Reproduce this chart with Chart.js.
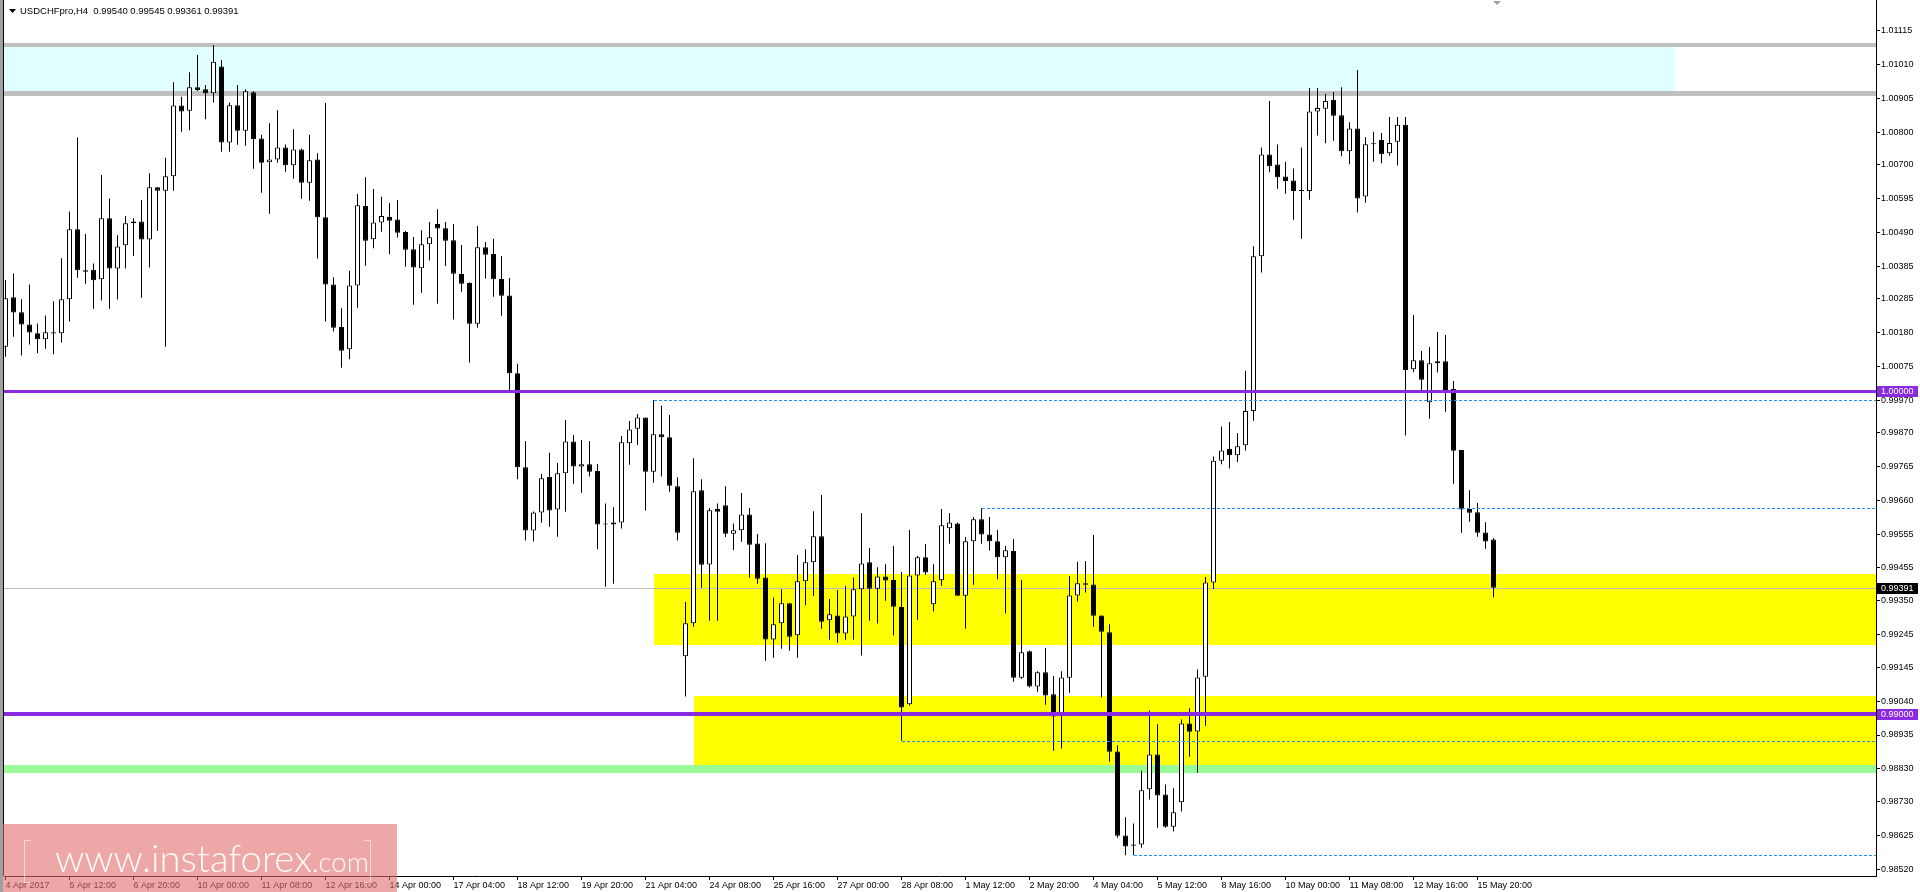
<!DOCTYPE html>
<html>
<head>
<meta charset="utf-8">
<title>USDCHFpro,H4</title>
<script src="https://cdn.jsdelivr.net/npm/chart.js@4.4.1/dist/chart.umd.min.js"></script>
<style>
    html, body { margin: 0; padding: 0; background: #fff; overflow: hidden; }
    #chartBox { position: relative; width: 1920px; height: 892px; }
</style>
</head>
<body>
<div id="chartBox"><canvas id="priceChart"></canvas></div>
<script>
// H4 candles, 4 Apr 2017 04:00 onwards (one entry per bar)
const opens = [
    1.00137, 1.00290, 1.00244, 1.00206, 1.00179, 1.00160, 1.00182, 1.00179, 1.00284, 1.00501,
    1.00374, 1.00375, 1.00346, 1.00535, 1.00379, 1.00451, 1.00519, 1.00525, 1.00469, 1.00631,
    1.00620, 1.00665, 1.00884, 1.00868, 1.00940, 1.00934, 1.00922, 1.01005, 1.00769, 1.00885,
    1.00806, 1.00925, 1.00782, 1.00708, 1.00717, 1.00754, 1.00699, 1.00748, 1.00645, 1.00717,
    1.00538, 1.00330, 1.00198, 1.00129, 1.00327, 1.00573, 1.00470, 1.00522, 1.00539, 1.00531,
    1.00492, 1.00439, 1.00380, 1.00454, 1.00517, 1.00504, 1.00467, 1.00362, 1.00334, 1.00208,
    1.00445, 1.00424, 1.00347, 1.00296, 1.00055, 0.99764, 0.99568, 0.99624, 0.99734, 0.99633,
    0.99745, 0.99844, 0.99766, 0.99773, 0.99752, 0.99587, 0.99587, 0.99593, 0.99838, 0.99883,
    0.99918, 0.99750, 0.99866, 0.99857, 0.99705, 0.99179, 0.99281, 0.99693, 0.99463, 0.99635,
    0.99646, 0.99558, 0.99569, 0.99618, 0.99528, 0.99423, 0.99231, 0.99281, 0.99343, 0.99244,
    0.99411, 0.99470, 0.99550, 0.99290, 0.99305, 0.99249, 0.99302, 0.99386, 0.99470, 0.99388,
    0.99426, 0.99415, 0.99331, 0.99030, 0.99429, 0.99485, 0.99340, 0.99414, 0.99575, 0.99590,
    0.99366, 0.99535, 0.99603, 0.99556, 0.99535, 0.99485, 0.99505, 0.99112, 0.99194, 0.99085,
    0.99129, 0.99061, 0.99000, 0.99112, 0.99367, 0.99405, 0.99401, 0.99305, 0.99253, 0.98884,
    0.98624, 0.98592, 0.98596, 0.98767, 0.98875, 0.98751, 0.98651, 0.98727, 0.98971, 0.98946,
    0.99115, 0.99407, 0.99784, 0.99821, 0.99801, 0.99832, 0.99938, 1.00417, 1.00732, 1.00701,
    1.00664, 1.00652, 1.00619, 1.00619, 1.00865, 1.00874, 1.00902, 1.00854, 1.00742, 1.00813,
    1.00602, 1.00764, 1.00777, 1.00736, 1.00772, 1.00824, 1.00067, 1.00095, 0.99965, 1.00086,
    1.00092, 1.00006, 0.99817, 0.99635, 0.99625, 0.99562, 0.99540
];
const highs = [
    1.00344, 1.00364, 1.00284, 1.00330, 1.00209, 1.00234, 1.00278, 1.00411, 1.00556, 1.00785,
    1.00486, 1.00395, 1.00669, 1.00596, 1.00482, 1.00542, 1.00535, 1.00591, 1.00674, 1.00631,
    1.00722, 1.00956, 1.00911, 1.00987, 1.01040, 1.00947, 1.01071, 1.01025, 1.00893, 1.00947,
    1.00934, 1.00928, 1.00793, 1.00829, 1.00869, 1.00763, 1.00810, 1.00751, 1.00793, 1.00736,
    1.00892, 1.00352, 1.00256, 1.00372, 1.00610, 1.00662, 1.00625, 1.00601, 1.00582, 1.00591,
    1.00495, 1.00477, 1.00498, 1.00523, 1.00563, 1.00523, 1.00517, 1.00452, 1.00337, 1.00511,
    1.00461, 1.00471, 1.00418, 1.00350, 1.00084, 0.99845, 0.99627, 0.99743, 0.99809, 0.99777,
    0.99910, 0.99864, 0.99848, 0.99845, 0.99774, 0.99652, 0.99640, 0.99861, 0.99907, 0.99929,
    0.99918, 0.99972, 0.99954, 0.99926, 0.99733, 0.99347, 0.99792, 0.99727, 0.99638, 0.99652,
    0.99705, 0.99590, 0.99684, 0.99638, 0.99557, 0.99529, 0.99361, 0.99386, 0.99343, 0.99492,
    0.99510, 0.99628, 0.99678, 0.99356, 0.99384, 0.99396, 0.99423, 0.99622, 0.99514, 0.99454,
    0.99464, 0.99520, 0.99440, 0.99570, 0.99489, 0.99526, 0.99464, 0.99635, 0.99622, 0.99593,
    0.99548, 0.99610, 0.99637, 0.99610, 0.99570, 0.99520, 0.99542, 0.99415, 0.99197, 0.99132,
    0.99204, 0.99118, 0.99132, 0.99427, 0.99471, 0.99474, 0.99554, 0.99305, 0.99278, 0.98903,
    0.98680, 0.98661, 0.98824, 0.99011, 0.98968, 0.98782, 0.98770, 0.98983, 0.99018, 0.99138,
    0.99424, 0.99797, 0.99890, 0.99904, 0.99870, 1.00063, 1.00448, 1.00754, 1.00898, 1.00763,
    1.00710, 1.00689, 1.00754, 1.00938, 1.00938, 1.00920, 1.00926, 1.00940, 1.00832, 1.00994,
    1.00786, 1.00803, 1.00799, 1.00848, 1.00848, 1.00848, 1.00235, 1.00124, 1.00136, 1.00183,
    1.00173, 1.00031, 0.99817, 0.99693, 0.99653, 0.99594, 0.99545
];
const lows = [
    1.00106, 1.00168, 1.00110, 1.00144, 1.00117, 1.00131, 1.00114, 1.00150, 1.00215, 1.00351,
    1.00332, 1.00255, 1.00280, 1.00255, 1.00283, 1.00379, 1.00418, 1.00289, 1.00382, 1.00495,
    1.00137, 1.00620, 1.00803, 1.00807, 1.00929, 1.00841, 1.00893, 1.00741, 1.00741, 1.00762,
    1.00759, 1.00688, 1.00614, 1.00549, 1.00707, 1.00679, 1.00657, 1.00595, 1.00589, 1.00410,
    1.00215, 1.00184, 1.00072, 1.00098, 1.00258, 1.00388, 1.00442, 1.00493, 1.00423, 1.00475,
    1.00385, 1.00267, 1.00304, 1.00404, 1.00270, 1.00387, 1.00221, 1.00307, 1.00088, 1.00196,
    1.00348, 1.00292, 1.00233, 1.00001, 0.99727, 0.99537, 0.99534, 0.99592, 0.99580, 0.99549,
    0.99626, 0.99713, 0.99685, 0.99735, 0.99510, 0.99394, 0.99403, 0.99574, 0.99772, 0.99833,
    0.99630, 0.99716, 0.99735, 0.99688, 0.99537, 0.99054, 0.99270, 0.99391, 0.99289, 0.99289,
    0.99548, 0.99508, 0.99533, 0.99422, 0.99403, 0.99165, 0.99174, 0.99202, 0.99196, 0.99174,
    0.99337, 0.99365, 0.99264, 0.99230, 0.99221, 0.99230, 0.99230, 0.99181, 0.99289, 0.99280,
    0.99351, 0.99243, 0.98917, 0.99026, 0.99292, 0.99431, 0.99317, 0.99397, 0.99527, 0.99366,
    0.99264, 0.99400, 0.99527, 0.99506, 0.99417, 0.99311, 0.99100, 0.99109, 0.99082, 0.99069,
    0.99029, 0.98886, 0.98893, 0.99066, 0.99348, 0.99376, 0.99270, 0.99051, 0.98852, 0.98617,
    0.98563, 0.98563, 0.98586, 0.98735, 0.98648, 0.98648, 0.98636, 0.98698, 0.98868, 0.98818,
    0.98964, 0.99387, 0.99773, 0.99760, 0.99780, 0.99816, 0.99908, 1.00367, 1.00677, 1.00626,
    1.00611, 1.00530, 1.00471, 1.00592, 1.00791, 1.00767, 1.00775, 1.00727, 1.00702, 1.00553,
    1.00583, 1.00710, 1.00705, 1.00728, 1.00698, 0.99862, 1.00058, 1.00003, 0.99914, 1.00057,
    0.99936, 0.99713, 0.99561, 0.99595, 0.99549, 0.99512, 0.99361
];
const closes = [
    1.00287, 1.00243, 1.00206, 1.00181, 1.00160, 1.00182, 1.00178, 1.00284, 1.00501, 1.00374,
    1.00369, 1.00343, 1.00535, 1.00379, 1.00447, 1.00519, 1.00525, 1.00469, 1.00631, 1.00620,
    1.00665, 1.00884, 1.00865, 1.00940, 1.00932, 1.00922, 1.01019, 1.00769, 1.00885, 1.00806,
    1.00928, 1.00780, 1.00707, 1.00717, 1.00754, 1.00699, 1.00748, 1.00645, 1.00714, 1.00538,
    1.00330, 1.00196, 1.00125, 1.00327, 1.00575, 1.00465, 1.00522, 1.00542, 1.00527, 1.00490,
    1.00437, 1.00382, 1.00454, 1.00476, 1.00503, 1.00465, 1.00363, 1.00332, 1.00208, 1.00445,
    1.00422, 1.00346, 1.00295, 1.00055, 0.99764, 0.99568, 0.99624, 0.99730, 0.99630, 0.99745,
    0.99844, 0.99766, 0.99773, 0.99750, 0.99587, 0.99587, 0.99593, 0.99841, 0.99881, 0.99918,
    0.99750, 0.99866, 0.99857, 0.99707, 0.99561, 0.99281, 0.99690, 0.99462, 0.99631, 0.99626,
    0.99558, 0.99569, 0.99618, 0.99524, 0.99419, 0.99231, 0.99278, 0.99343, 0.99239, 0.99411,
    0.99470, 0.99550, 0.99286, 0.99309, 0.99249, 0.99302, 0.99386, 0.99466, 0.99388, 0.99426,
    0.99413, 0.99332, 0.99020, 0.99429, 0.99485, 0.99438, 0.99411, 0.99584, 0.99593, 0.99366,
    0.99535, 0.99603, 0.99556, 0.99535, 0.99485, 0.99507, 0.99112, 0.99191, 0.99085, 0.99129,
    0.99057, 0.98992, 0.99113, 0.99367, 0.99405, 0.99400, 0.99304, 0.99255, 0.98883, 0.98623,
    0.98590, 0.98596, 0.98764, 0.98875, 0.98748, 0.98651, 0.98696, 0.98971, 0.98945, 0.99113,
    0.99407, 0.99784, 0.99816, 0.99801, 0.99829, 0.99938, 1.00417, 1.00732, 1.00696, 1.00662,
    1.00650, 1.00619, 1.00619, 1.00865, 1.00876, 1.00898, 1.00852, 1.00742, 1.00813, 1.00596,
    1.00764, 1.00766, 1.00733, 1.00768, 1.00824, 1.00065, 1.00095, 1.00035, 1.00086, 1.00092,
    1.00003, 0.99815, 0.99633, 0.99623, 0.99561, 0.99534, 0.99391
];

// time labels, one every 8 bars starting at bar 0
const xLabels = [
    "4 Apr 2017", "5 Apr 12:00", "6 Apr 20:00", "10 Apr 00:00", "11 Apr 08:00", "12 Apr 16:00",
    "14 Apr 00:00", "17 Apr 04:00", "18 Apr 12:00", "19 Apr 20:00", "21 Apr 04:00", "24 Apr 08:00",
    "25 Apr 16:00", "27 Apr 00:00", "28 Apr 08:00", "1 May 12:00", "2 May 20:00", "4 May 04:00",
    "5 May 12:00", "8 May 16:00", "10 May 00:00", "11 May 08:00", "12 May 16:00", "15 May 20:00"
];
const yTicks = [
    1.01115, 1.01010, 1.00905, 1.00800, 1.00700, 1.00595, 1.00490, 1.00385, 1.00285, 1.00180,
    1.00075, 0.99970, 0.99870, 0.99765, 0.99660, 0.99555, 0.99455, 0.99350, 0.99245, 0.99145,
    0.99040, 0.98935, 0.98830, 0.98730, 0.98625, 0.98520
];
const yMin = 0.984985;
const yMax = 1.012105;
const xMin = -0.1875;
const xMax = 233.8125;

// drawn zones: resistance, upper support, lower support, floor
const zoneTop = [1.01071, 0.99433, 0.99056, 0.98842];
const zoneBottom = [1.00921, 0.99214, 0.98842, 0.98817];
const zoneFrom = [-5, 81, 86, -5];
const zoneTo = [208.7, 260, 260, 260];
const roundLevels = [1.00000, 0.99000];
const dottedLevels = [0.99973, 0.99637, 0.98916, 0.98562];
const dottedFrom = [81, 122, 112, 141];

const last = closes.length - 1;
const bidPrice = closes[last];

const zoneColors = ["#e0ffff", "#ffff00", "#ffff00", "#98fb98"];
const axisFont = '"Liberation Sans", Arial, sans-serif';

function pixelRow(scale, price) {
    return Math.round(scale.getPixelForValue(price));
}

// no label overhang padding, the plot runs edge to edge
function flushScale(scale) {
    scale.paddingTop = 0;
    scale.paddingBottom = 0;
    scale.paddingLeft = 0;
    scale.paddingRight = 0;
}

const levelsPlugin = {
    id: "levels",
    beforeDraw(chart) {
        const ctx = chart.ctx;
        ctx.save();
        ctx.fillStyle = "#ffffff";
        ctx.fillRect(0, 0, chart.width, chart.height);
        ctx.restore();
    },
    beforeDatasetsDraw(chart) {
        const { ctx, chartArea: area, scales: { x, y } } = chart;
        ctx.save();
        ctx.beginPath();
        ctx.rect(area.left, area.top, area.right - area.left, area.bottom - area.top);
        ctx.clip();

        zoneTop.forEach((top, i) => {
            const x0 = Math.round(x.getPixelForValue(zoneFrom[i]));
            const x1 = Math.round(x.getPixelForValue(zoneTo[i]));
            const y0 = pixelRow(y, top);
            const y1 = pixelRow(y, zoneBottom[i]);
            ctx.fillStyle = zoneColors[i];
            ctx.fillRect(x0, y0, x1 - x0, y1 - y0);
        });

        // silver edges of the resistance zone
        ctx.fillStyle = "#c0c0c0";
        [[zoneTop[0], 4], [zoneBottom[0], 5]].forEach(([price, w]) => {
            const yy = y.getPixelForValue(price);
            ctx.fillRect(area.left, Math.round(yy - w / 2), area.right - area.left, w);
        });

        // bid line
        ctx.fillRect(area.left, pixelRow(y, bidPrice), area.right - area.left, 1);
        ctx.restore();
    },
    afterDatasetsDraw(chart) {
        const { ctx, chartArea: area, scales: { x, y } } = chart;
        ctx.save();
        ctx.beginPath();
        ctx.rect(area.left, area.top, area.right - area.left, area.bottom - area.top);
        ctx.clip();

        ctx.strokeStyle = "#1e90ff";
        ctx.lineWidth = 1;
        ctx.setLineDash([3, 2]);
        dottedLevels.forEach((price, i) => {
            const yy = pixelRow(y, price) + 0.5;
            ctx.beginPath();
            ctx.moveTo(Math.round(x.getPixelForValue(dottedFrom[i])), yy);
            ctx.lineTo(area.right, yy);
            ctx.stroke();
        });
        ctx.setLineDash([]);

        ctx.fillStyle = "#8a2be2";
        roundLevels.forEach((price, i) => {
            const w = i === 0 ? 3 : 4;
            const yy = y.getPixelForValue(price);
            ctx.fillRect(area.left, Math.round(yy - w / 2), area.right - area.left, w);
        });
        ctx.restore();
    },
    afterDraw(chart) {
        const { ctx, chartArea: area, scales: { y } } = chart;
        ctx.save();

        // frame on the left
        ctx.fillStyle = "#a0a0a0";
        ctx.fillRect(0, 0, 3, chart.height);
        ctx.fillStyle = "#000000";
        ctx.fillRect(3, 0, 1, area.bottom);

        // price tags on the axis
        ctx.font = "9px " + axisFont;
        ctx.textBaseline = "middle";
        [[roundLevels[0], "#8a2be2"], [bidPrice, "#000000"], [roundLevels[1], "#8a2be2"]].forEach(([price, bg]) => {
            const yy = pixelRow(y, price);
            ctx.fillStyle = bg;
            ctx.fillRect(area.right + 1, yy - 5, 41, 11);
            ctx.fillStyle = "#ffffff";
            ctx.fillText(price.toFixed(5), area.right + 5, yy + 0.5);
        });

        // header
        ctx.fillStyle = "#000000";
        ctx.beginPath();
        ctx.moveTo(9, 9);
        ctx.lineTo(16, 9);
        ctx.lineTo(12.5, 13);
        ctx.closePath();
        ctx.fill();
        ctx.font = "9.5px " + axisFont;
        ctx.textBaseline = "alphabetic";
        const head = [opens[last], highs[last], lows[last], closes[last]].map(v => v.toFixed(5)).join(" ");
        ctx.fillText("USDCHFpro,H4  " + head, 20, 14);

        // chart shift marker
        ctx.fillStyle = "#a0a0a0";
        ctx.beginPath();
        ctx.moveTo(1493, 1);
        ctx.lineTo(1501, 1);
        ctx.lineTo(1497, 5);
        ctx.closePath();
        ctx.fill();

        // watermark
        ctx.fillStyle = "rgba(225, 108, 108, 0.6)";
        ctx.fillRect(3, 824, 394, 68);
        ctx.fillStyle = "rgba(255, 255, 255, 0.95)";
        const family = 'Lato, "Open Sans", sans-serif';
        ctx.font = "300 40px " + family;
        const size = 40 * 257 / ctx.measureText("www.instaforex").width;
        ctx.font = "300 " + size.toFixed(1) + "px " + family;
        ctx.fillText("www.instaforex", 55, 872);
        const wMain = ctx.measureText("www.instaforex").width;
        ctx.font = "300 " + (size * 0.72).toFixed(1) + "px " + family;
        ctx.fillText(".com", 55 + wMain, 872);
        ctx.font = "200 48px " + family;
        ctx.fillText("[", 19, 877);
        ctx.fillText("]", 362, 877);
        ctx.restore();
    }
};

const wickData = highs.map((h, i) => ({ x: i, y: [lows[i], h] }));
const bodyData = opens.map((o, i) => ({ x: i, y: [o, closes[i]] }));
const bodyColors = opens.map((o, i) => closes[i] >= o ? "#ffffff" : "#000000");

const priceChart = new Chart(document.getElementById("priceChart"), {
    type: "bar",
    data: {
        datasets: [
            {
                label: "body",
                data: bodyData,
                backgroundColor: bodyColors,
                borderColor: "#000000",
                borderWidth: 1,
                borderSkipped: false,
                barThickness: 5,
                maxBarThickness: 5,
                minBarLength: 1,
                inflateAmount: 0,
                grouped: false,
                order: 1
            },
            {
                label: "wick",
                data: wickData,
                backgroundColor: "#000000",
                borderWidth: 0,
                barThickness: 1,
                maxBarThickness: 1,
                minBarLength: 1,
                inflateAmount: 0,
                grouped: false,
                order: 2
            }
        ]
    },
    options: {
        responsive: true,
        maintainAspectRatio: false,
        animation: false,
        devicePixelRatio: 1,
        events: [],
        layout: { padding: { left: 4, top: 0, right: 0, bottom: 0 }, autoPadding: false },
        plugins: { legend: { display: false }, tooltip: { enabled: false } },
        scales: {
            x: {
                type: "linear",
                position: "bottom",
                offset: false,
                min: xMin,
                max: xMax,
                bounds: "data",
                afterBuildTicks: axis => { axis.ticks = xLabels.map((_, k) => ({ value: k * 8 })); },
                afterFit: scale => { scale.height = 16; flushScale(scale); },
                grid: { offset: false, drawOnChartArea: false, drawTicks: true, tickLength: 4, color: "#000000" },
                border: { color: "#000000" },
                ticks: {
                    align: "start",
                    autoSkip: false,
                    maxRotation: 0,
                    padding: 0,
                    color: "#000000",
                    font: { family: axisFont, size: 9 },
                    callback: value => xLabels[Math.round(value / 8)] || ""
                }
            },
            y: {
                type: "linear",
                position: "right",
                min: yMin,
                max: yMax,
                bounds: "data",
                afterBuildTicks: axis => { axis.ticks = yTicks.map(v => ({ value: v })); },
                afterFit: scale => { scale.width = 44; flushScale(scale); },
                grid: { drawOnChartArea: false, drawTicks: true, tickLength: 4, color: "#000000" },
                border: { color: "#000000" },
                ticks: {
                    autoSkip: false,
                    padding: 1,
                    color: "#000000",
                    font: { family: axisFont, size: 9 },
                    callback: value => value.toFixed(5)
                }
            }
        }
    },
    plugins: [levelsPlugin]
});
</script>
</body>
</html>
